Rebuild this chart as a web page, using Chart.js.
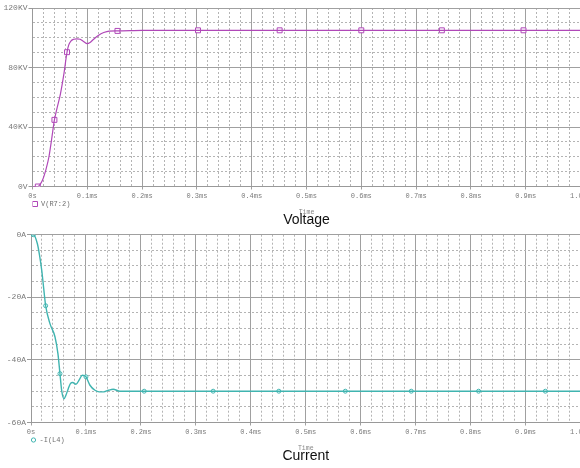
<!DOCTYPE html>
<html><head><meta charset="utf-8">
<script src="https://cdn.jsdelivr.net/npm/chart.js@4/dist/chart.umd.min.js"></script>
<style>
html,body{margin:0;padding:0;background:#fff;overflow:hidden;width:580px;height:468px;position:relative;}
.box{position:absolute;left:0;width:600px;}
#b1{top:0;height:238px;}
#b2{top:220px;height:254px;}
</style></head><body>
<div class="box" id="b1"><canvas id="c1"></canvas></div>
<div class="box" id="b2"><canvas id="c2"></canvas></div>
<script>
// ---- data (time in ms) ----
const xTickLabels = ['0s','0.1ms','0.2ms','0.3ms','0.4ms','0.5ms','0.6ms','0.7ms','0.8ms','0.9ms','1.0ms'];
const voltTickLabels = ['0V','40KV','80KV','120KV'];
const currTickLabels = ['0A','-20A','-40A','-60A'];

const voltTime = [0, 0.0097, 0.013, 0.018, 0.025, 0.030, 0.035, 0.040, 0.045, 0.051, 0.057, 0.063, 0.066, 0.070, 0.075, 0.081, 0.087, 0.093, 0.100, 0.105, 0.110, 0.120, 0.130, 0.140, 0.155, 0.200, 0.302, 0.451, 0.600, 0.747, 0.896, 1.000];
const voltKV   = [0, 0, 1, 4, 12, 20, 32, 44.8, 53, 62.3, 75, 90.3, 95, 97.8, 99, 99.3, 99, 97.5, 96, 96.8, 98.5, 101.5, 103.5, 104.5, 104.6, 104.9, 105, 105, 105, 105, 105, 105];
const voltMarkTime = [0.0097, 0.040, 0.063, 0.155, 0.302, 0.451, 0.600, 0.747, 0.896];
const voltMarkKV   = [0, 44.8, 90.3, 104.6, 105, 105, 105, 105, 105];

const currTime = [0, 0.0042, 0.0115, 0.0155, 0.0195, 0.023, 0.0267, 0.0345, 0.0436, 0.049, 0.0527, 0.056, 0.060, 0.0635, 0.0678, 0.072, 0.0758, 0.0818, 0.088, 0.0933, 0.100, 0.1073, 0.1164, 0.124, 0.1327, 0.141, 0.1496, 0.1618, 0.180, 0.206, 1.000];
const currA    = [0, 0, -2.8, -6.5, -11.3, -17, -22.7, -28.4, -32.6, -38, -44.4, -50, -52.4, -51.3, -49.2, -47.5, -47.2, -47.8, -46.3, -44.9, -45.4, -48.1, -49.7, -50.2, -50.2, -49.7, -49.4, -50, -50, -50, -50];
const currMarkTime = [0.0042, 0.0267, 0.0527, 0.100, 0.206, 0.3315, 0.451, 0.572, 0.692, 0.8145, 0.936];
const currMarkA    = [0, -22.7, -44.4, -45.4, -50, -50, -50, -50, -50, -50, -50];

const toXY = (xs, ys) => xs.map((x, i) => ({x, y: ys[i]}));

const MAJOR = '#a0a0a0', MINOR = '#b4b4b4', TICKC = '#7a7a7a';
const mono = 'Liberation Mono, DejaVu Sans Mono, monospace';

function isMajorX(v){ return Math.abs(v*10 - Math.round(v*10)) < 1e-6; }

function makeChart(id, cfg){
  const isMajY = v => Math.abs(v/cfg.yMajor - Math.round(v/cfg.yMajor)) < 1e-6;
  return new Chart(document.getElementById(id), {
    type: 'scatter',
    data: { datasets: [
      { label: cfg.label + ' line', data: toXY(cfg.xs, cfg.ys), showLine: true,
        borderColor: cfg.color, borderWidth: cfg.lw, pointRadius: 0, pointHoverRadius: 0,
        cubicInterpolationMode: 'monotone', fill: false },
      { label: cfg.label, data: toXY(cfg.mx, cfg.my), showLine: false,
        pointStyle: cfg.pstyle, pointRadius: cfg.pr, borderColor: cfg.color, backgroundColor: '#fff',
        pointBorderWidth: 1, borderWidth: 1 }
    ]},
    options: {
      responsive: true, maintainAspectRatio: false, animation: false, devicePixelRatio: 1,
      events: [],
      layout: { padding: { top: cfg.padTop, right: 19.5, left: 0, bottom: 0 } },
      scales: {
        x: {
          type: 'linear', min: 0, max: 1.0,
          afterFit: s => { s.height = 14; },
          ticks: { stepSize: 0.02, autoSkip: false, maxRotation: 0, padding: 2,
            color: TICKC, font: { family: mono, size: 7 },
            callback: v => isMajorX(v) ? xTickLabels[Math.round(v*10)] : '' },
          grid: { color: c => (c.tick && isMajorX(c.tick.value)) ? MAJOR : MINOR,
                  tickLength: 3,
                  tickColor: c => (c.tick && isMajorX(c.tick.value)) ? MAJOR : 'rgba(0,0,0,0)' },
          border: { color: '#999', dash: c => (c.tick && !isMajorX(c.tick.value)) ? [2,2] : [] }
        },
        y: {
          type: 'linear', min: cfg.ymin, max: cfg.ymax,
          afterFit: s => { s.width = cfg.left; },
          ticks: { stepSize: cfg.yStep, autoSkip: false, padding: 1,
            color: TICKC, font: { family: mono, size: 8 },
            callback: v => isMajY(v) ? cfg.yLabels[Math.round(Math.abs(v)/cfg.yMajor)] : '' },
          grid: { color: c => (c.tick && isMajY(c.tick.value)) ? MAJOR : MINOR,
                  tickLength: 4,
                  tickColor: c => (c.tick && isMajY(c.tick.value)) ? '#999' : 'rgba(0,0,0,0)' },
          border: { color: '#999', dash: c => (c.tick && !isMajY(c.tick.value)) ? [2,2] : [] }
        }
      },
      plugins: {
        tooltip: { enabled: false },
        legend: { display: true, position: 'bottom', align: 'start', fullSize: false,
          labels: { usePointStyle: true, boxWidth: cfg.lbw, boxHeight: cfg.lbh, padding: 0,
            color: '#707070', font: { family: mono, size: 7 },
            filter: item => item.datasetIndex === 1 } },
        subtitle: { display: true, text: 'Time', position: 'bottom', fullSize: false,
          color: '#888', font: { family: mono, size: 6.5, lineHeight: 1 },
          padding: { top: -8.25, bottom: 8.25 } },
        title: { display: true, text: cfg.title, position: 'bottom', fullSize: false,
          color: '#111', font: { family: 'Liberation Sans, Arial, sans-serif', size: 14, weight: 'normal', lineHeight: 1 },
          padding: { top: -11, bottom: 11 } }
      }
    }
  });
}

makeChart('c1', { xs: voltTime, ys: voltKV, mx: voltMarkTime, my: voltMarkKV,
  label: 'V(R7:2)', title: 'Voltage', color: '#b048b8', lw: 1.2, pstyle: 'rect', pr: 3.5, lbw: 5, lbh: 5,
  ymin: 0, ymax: 120, yStep: 10, yMajor: 40, yLabels: voltTickLabels, left: 32.5, padTop: 8 });

makeChart('c2', { xs: currTime, ys: currA, mx: currMarkTime, my: currMarkA,
  label: '-I(L4)', title: 'Current', color: '#40b4b0', lw: 1.4, pstyle: 'circle', pr: 2, lbw: 5, lbh: 3,
  ymin: -60, ymax: 0, yStep: 5, yMajor: 20, yLabels: currTickLabels, left: 31, padTop: 14.7 });
</script>
</body></html>
